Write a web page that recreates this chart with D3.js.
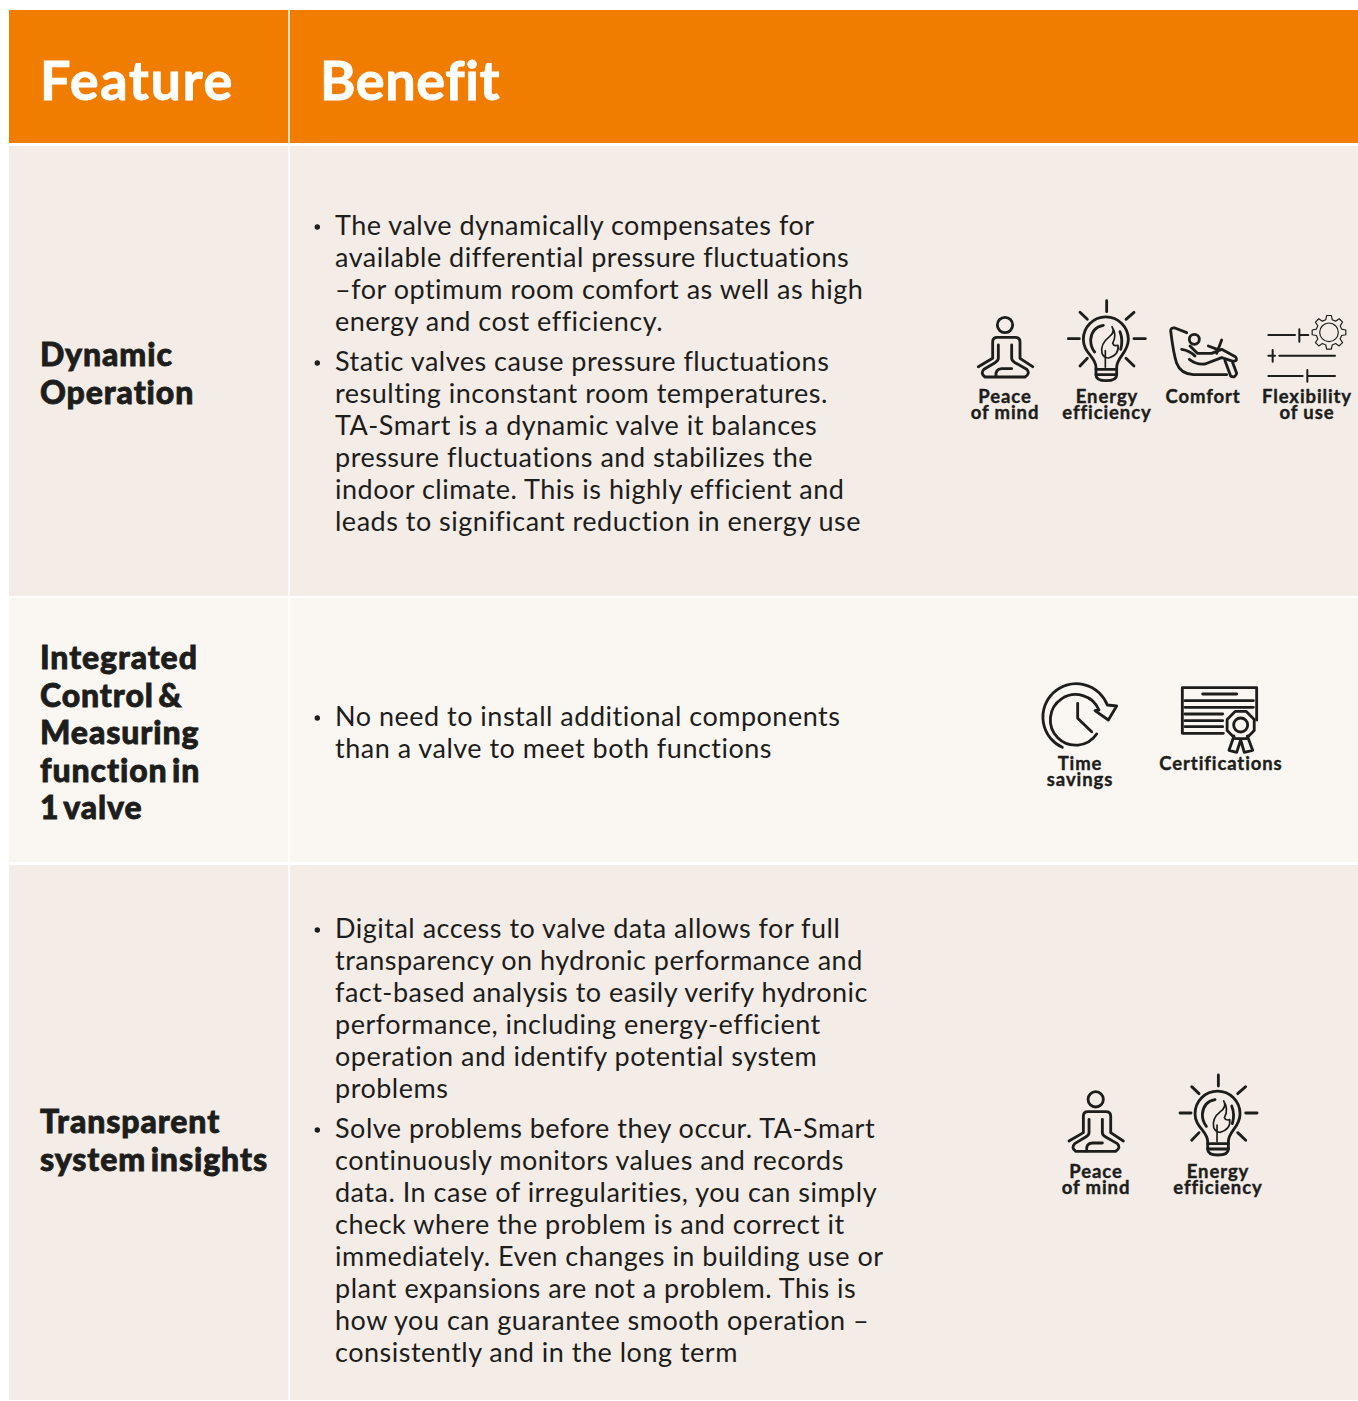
<!DOCTYPE html>
<html>
<head>
<meta charset="utf-8">
<script src="https://cdn.jsdelivr.net/npm/d3@7"></script>
<style>
  html, body { margin: 0; padding: 0; background: #fff; }
  svg { display: block; }
  text { font-family: Lato, sans-serif; fill: #1d1d1b; }
</style>
</head>
<body>
<svg id="chart"></svg>
<script>
// table content
const headers = ['Feature', 'Benefit'];

const features = [
  ['Dynamic', 'Operation'],
  ['Integrated', 'Control &', 'Measuring', 'function in', '1 valve'],
  ['Transparent', 'system insights']
];

const benefits = [
  [
    ['The valve dynamically compensates for',
     'available differential pressure fluctuations',
     '–for optimum room comfort as well as high',
     'energy and cost efficiency.'],
    ['Static valves cause pressure fluctuations',
     'resulting inconstant room temperatures.',
     'TA-Smart is a dynamic valve it balances',
     'pressure fluctuations and stabilizes the',
     'indoor climate. This is highly efficient and',
     'leads to significant reduction in energy use']
  ],
  [
    ['No need to install additional components',
     'than a valve to meet both functions']
  ],
  [
    ['Digital access to valve data allows for full',
     'transparency on hydronic performance and',
     'fact-based analysis to easily verify hydronic',
     'performance, including energy-efficient',
     'operation and identify potential system',
     'problems'],
    ['Solve problems before they occur. TA-Smart',
     'continuously monitors values and records',
     'data. In case of irregularities, you can simply',
     'check where the problem is and correct it',
     'immediately. Even changes in building use or',
     'plant expansions are not a problem. This is',
     'how you can guarantee smooth operation –',
     'consistently and in the long term']
  ]
];

const rowIcons = [
  ['peace', 'energy', 'comfort', 'flexibility'],
  ['time', 'certifications'],
  ['peace', 'energy']
];

const iconLabels = {
  peace: ['Peace', 'of mind'],
  energy: ['Energy', 'efficiency'],
  comfort: ['Comfort'],
  flexibility: ['Flexibility', 'of use'],
  time: ['Time', 'savings'],
  certifications: ['Certifications']
};

// layout
const width = 1358;
const height = 1401;
const left = 9;
const colSplit = 289;
const headerTop = 10;
const headerBottom = 143;
const rowTops = [146, 598, 865];
const rowBottoms = [596, 862, 1400];
const rowFills = ['#f3ece7', '#faf7f3', '#f3ece7'];
const headerSpacing = ['1.6px', '0.6px'];
const featureBase = [366, 669, 1133];
const bodyBase = [235, 726, 938];
const iconSlots = [
  [{ dx: 960, dy: 290, lx: 1005, ly: 403 }, { dx: 960, dy: 290, lx: 1107, ly: 403 },
   { dx: 960, dy: 290, lx: 1203, ly: 403 }, { dx: 960, dy: 290, lx: 1307, ly: 403 }],
  [{ dx: 1030, dy: 670, lx: 1080, ly: 770 }, { dx: 1030, dy: 670, lx: 1221, ly: 770 }],
  [{ dx: 1050.7, dy: 1064.3, lx: 1096, ly: 1178 }, { dx: 1071.7, dy: 1064.3, lx: 1218, ly: 1178 }]
];

const svg = d3.select('#chart')
  .attr('width', width)
  .attr('height', height);

// icons are drawn at 3x and scaled down
const gearPath = () => {
  const pts = [];
  d3.range(8).forEach(i => {
    const a = i * Math.PI / 4;
    [[-0.25, 39], [-0.14, 51], [0.14, 51], [0.25, 39]].forEach(([o, r]) => {
      pts.push([a + o, r]);
    });
  });
  return d3.lineRadial().curve(d3.curveLinearClosed)(pts);
};

const iconDraw = {
  peace: g => {
    g.append('circle').attr('cx', 135).attr('cy', 105).attr('r', 23);
    g.append('path').attr('d', 'M55,230 L98,205 V155 Q98,142 112,142 H165 Q180,142 180,155 V205 L218,230');
    g.append('path').attr('d', 'M115,165 V205 Q115,212 105,218 L72,238 Q60,250 75,261 H195 Q212,250 200,238 L165,218 Q155,212 155,205 V165');
    g.append('path').attr('d', 'M108,260 Q105,237 125,236 H155');
  },
  energy: g => {
    g.append('path').attr('d', 'M440,32 V65 M360,67 L382,88 M522,67 L498,88 M325,146 H358 M522,146 H556 M360,228 L382,205 M522,228 L498,205');
    g.append('path').attr('d', 'M408,232 C408,200 370,190 370,148 A67,67 0 1 1 505,148 C505,190 470,200 470,232 V255 Q470,272 438,272 Q408,272 408,255 Z');
    g.append('path').attr('d', 'M408,238 H470 M408,254 H470');
    g.append('path').attr('d', 'M430,106 Q395,112 392,150 Q392,172 404,186 M480,125 Q490,150 482,178');
    g.append('path').style('stroke-width', 5).attr('d', 'M456,110 Q466,128 446,142 Q420,162 426,190 Q432,204 446,204 Q478,194 474,166 Q462,170 458,160 Q472,135 456,110 Z M436,232 V182');
  },
  comfort: g => {
    g.append('path').attr('d', 'M632,122 Q632,112 645,114 L680,128 M632,122 Q640,190 650,220 Q662,252 700,254 H800');
    g.append('circle').attr('cx', 703).attr('cy', 148).attr('r', 15);
    g.append('path').attr('d', 'M690,168 L712,190 H755 L785,178 L826,200 Q836,212 820,214 L785,203 L735,222 Q710,225 688,208');
    g.append('path').attr('d', 'M665,178 Q690,182 705,198 M785,150 L770,190 M745,168 L772,178');
    g.append('path').attr('d', 'M795,212 L812,258 Q825,266 830,250 L818,218');
  },
  flexibility: g => {
    g.append('path').style('stroke-width', 6).attr('d', 'M925,135 H1005 M1018,118 V155 M1018,135 H1045 M925,197 H945 M938,180 V215 M958,197 H1125 M925,258 H1028 M1042,240 V275 M1042,258 H1125');
    g.append('g').attr('transform', 'translate(1107,127)').style('stroke-width', 3.5)
      .call(s => s.append('path').attr('d', gearPath()))
      .call(s => s.append('circle').attr('r', 28));
  },
  time: g => {
    g.append('path').attr('d', 'M97,232 A100,100 0 1 1 232,105 L260,108 L235,150 L195,122 L207,120 A76,76 0 1 0 200,192');
    g.append('path').attr('d', 'M143,100 V145 L185,185');
  },
  certifications: g => {
    g.append('path').attr('d', 'M580,190 H457 V53 H680 V150');
    g.append('path').attr('d', 'M518,72 H620 M465,92 H670 M465,112 H670 M465,132 H578 M465,152 H578 M465,170 H578');
    g.append('g').attr('transform', 'translate(632,165)')
      .call(s => s.append('path').attr('d', d3.lineRadial().curve(d3.curveLinearClosed)(d3.range(8).map(i => [i * Math.PI / 4 + Math.PI / 8, 44]))))
      .call(s => s.append('circle').attr('r', 21));
    g.append('path').attr('d', 'M612,198 L597,241 L620,247 L632,210 L643,247 L668,241 L652,198');
  }
};

// background
svg.append('rect').attr('x', left).attr('y', headerTop)
  .attr('width', width - left).attr('height', headerBottom - headerTop)
  .style('fill', '#f07d00');

svg.selectAll('rect.row')
  .data(rowTops)
  .enter()
  .append('rect')
  .attr('class', 'row')
  .attr('x', left)
  .attr('y', d => d)
  .attr('width', width - left)
  .attr('height', (d, i) => rowBottoms[i] - d)
  .style('fill', (d, i) => rowFills[i]);

// column divider
svg.append('line')
  .attr('x1', colSplit).attr('x2', colSplit)
  .attr('y1', headerTop).attr('y2', rowBottoms[2])
  .style('stroke', '#fff')
  .style('stroke-width', 1.5);

// header
svg.selectAll('text.head')
  .data(headers)
  .enter()
  .append('text')
  .attr('class', 'head')
  .attr('x', (d, i) => i === 0 ? 40 : 320)
  .attr('y', 100)
  .text(d => d)
  .style('fill', '#fff')
  .style('stroke', '#fff')
  .style('stroke-width', 0.9)
  .style('font-size', '54px')
  .style('font-weight', 700)
  .style('letter-spacing', (d, i) => headerSpacing[i]);

// feature column
features.forEach((lines, r) => {
  svg.append('g').selectAll('text')
    .data(lines)
    .enter()
    .append('text')
    .attr('x', 40)
    .attr('y', (d, i) => featureBase[r] + i * 37.5)
    .text(d => d)
    .style('stroke', '#1d1d1b')
    .style('stroke-width', 0.8)
    .style('font-size', '32px')
    .style('font-weight', 900)
    .style('letter-spacing', '0.9px')
    .style('word-spacing', '-4px');
});

// benefit column
benefits.forEach((paras, r) => {
  let y = bodyBase[r];
  paras.forEach(lines => {
    svg.append('circle')
      .attr('cx', 317.3)
      .attr('cy', y - 8)
      .attr('r', 2.7)
      .style('fill', '#1d1d1b');
    lines.forEach(line => {
      svg.append('text')
        .attr('x', 335)
        .attr('y', y)
        .text(line)
        .style('font-size', '27px')
        .style('letter-spacing', '0.5px');
      y += 32;
    });
    y += 8;
  });
});

// icons and their captions
rowIcons.forEach((names, r) => {
  names.forEach((name, i) => {
    const slot = iconSlots[r][i];
    const g = svg.append('g')
      .attr('transform', `translate(${slot.dx},${slot.dy}) scale(${1 / 3})`)
      .style('fill', 'none')
      .style('stroke', '#1d1d1b')
      .style('stroke-width', 8.5)
      .style('stroke-linecap', 'round')
      .style('stroke-linejoin', 'round');
    iconDraw[name](g);
    svg.append('g').selectAll('text')
      .data(iconLabels[name])
      .enter()
      .append('text')
      .attr('x', slot.lx)
      .attr('y', (d, k) => slot.ly + k * 15.5)
      .attr('text-anchor', 'middle')
      .text(d => d)
      .style('stroke', '#1d1d1b')
      .style('stroke-width', 0.4)
      .style('font-size', '18.5px')
      .style('font-weight', 700)
      .style('letter-spacing', '0.9px');
  });
});
</script>
</body>
</html>
